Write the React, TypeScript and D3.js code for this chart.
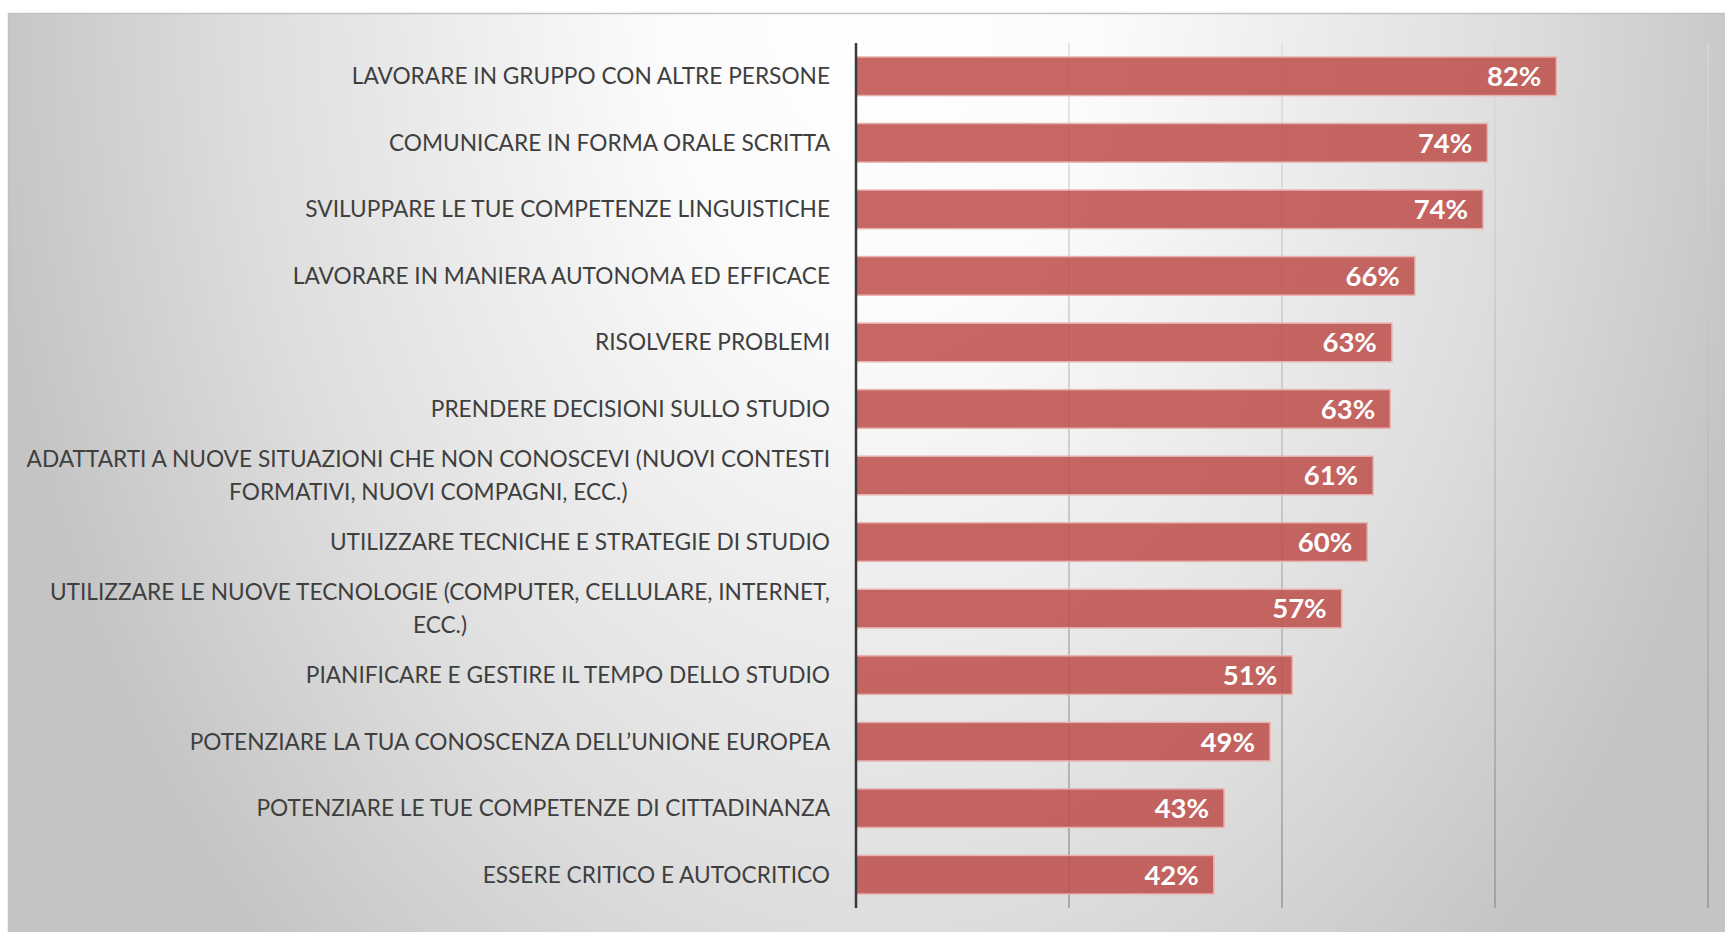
import React, { useEffect, useRef } from "react";
import * as d3 from "d3";

// categories (each entry = lines of the label as printed)
const categories: string[][] = [
  ["LAVORARE IN GRUPPO CON ALTRE PERSONE"],
  ["COMUNICARE IN FORMA ORALE SCRITTA"],
  ["SVILUPPARE LE TUE COMPETENZE LINGUISTICHE"],
  ["LAVORARE IN MANIERA AUTONOMA ED EFFICACE"],
  ["RISOLVERE PROBLEMI"],
  ["PRENDERE DECISIONI SULLO STUDIO"],
  ["ADATTARTI A NUOVE SITUAZIONI CHE NON CONOSCEVI (NUOVI CONTESTI", "FORMATIVI, NUOVI COMPAGNI, ECC.)"],
  ["UTILIZZARE TECNICHE E STRATEGIE DI STUDIO"],
  ["UTILIZZARE LE NUOVE TECNOLOGIE (COMPUTER, CELLULARE, INTERNET,", "ECC.)"],
  ["PIANIFICARE E GESTIRE IL TEMPO DELLO STUDIO"],
  ["POTENZIARE LA TUA CONOSCENZA DELL\u2019UNIONE EUROPEA"],
  ["POTENZIARE LE TUE COMPETENZE DI CITTADINANZA"],
  ["ESSERE CRITICO E AUTOCRITICO"],
];
const values = [0.822, 0.741, 0.736, 0.656, 0.629, 0.627, 0.607, 0.6, 0.57, 0.512, 0.486, 0.432, 0.42];
const valueLabels = ["82%", "74%", "74%", "66%", "63%", "63%", "61%", "60%", "57%", "51%", "49%", "43%", "42%"];
const gridTicks = [0, 0.25, 0.5, 0.75, 1];

const W = 1725;
const H = 932;
const FONT = "Lato, 'Open Sans', sans-serif";

function BarChart() {
  const ref = useRef<SVGSVGElement>(null);

  useEffect(() => {
    const svg = d3.select(ref.current);
    svg.selectAll("*").remove();

    const margin = { top: 43, right: 17, bottom: 24, left: 856 };

    const x = d3.scaleLinear()
      .domain([0, 1])
      .range([margin.left, W - margin.right]);

    const y = d3.scaleBand<number>()
      .domain(d3.range(categories.length))
      .range([margin.top, H - margin.bottom])
      .paddingInner(0.42)
      .paddingOuter(0.21);

    const defs = svg.append("defs");
    const bg = defs.append("radialGradient")
      .attr("id", "bg")
      .attr("gradientUnits", "userSpaceOnUse")
      .attr("cx", 880).attr("cy", 0)
      .attr("r", 900)
      .attr("gradientTransform", "translate(880,0) scale(1,1.45) translate(-880,0)");
    bg.append("stop").attr("offset", 0).attr("stop-color", "#ffffff");
    bg.append("stop").attr("offset", 0.25).attr("stop-color", "#fbfbfb");
    bg.append("stop").attr("offset", 0.7).attr("stop-color", "#dedede");
    bg.append("stop").attr("offset", 1).attr("stop-color", "#c4c4c4");

    const gl = defs.append("linearGradient")
      .attr("id", "grid")
      .attr("gradientUnits", "userSpaceOnUse")
      .attr("x1", 0).attr("y1", margin.top)
      .attr("x2", 0).attr("y2", H - margin.bottom);
    gl.append("stop").attr("offset", 0).attr("stop-color", "#dadada");
    gl.append("stop").attr("offset", 0.45).attr("stop-color", "#bdbdbd");
    gl.append("stop").attr("offset", 1).attr("stop-color", "#8e8e8e");

    // background panel
    svg.append("rect")
      .attr("x", 0).attr("y", 0).attr("width", W).attr("height", H)
      .attr("fill", "#ffffff");
    svg.append("rect")
      .attr("x", 8.5).attr("y", 13.5)
      .attr("width", W).attr("height", H)
      .attr("fill", "url(#bg)")
      .attr("stroke", "#c2c2c2")
      .attr("stroke-width", 1.5);

    // gridlines
    svg.append("g")
      .selectAll("line")
      .data(gridTicks.slice(1))
      .join("line")
      .attr("x1", d => x(d)).attr("x2", d => x(d))
      .attr("y1", margin.top).attr("y2", H - margin.bottom)
      .attr("stroke", "url(#grid)")
      .attr("stroke-width", 1.3);

    // bars
    svg.append("g")
      .selectAll("rect")
      .data(values)
      .join("rect")
      .attr("x", x(0))
      .attr("y", (_, i) => y(i)!)
      .attr("width", d => x(d) - x(0))
      .attr("height", y.bandwidth())
      .attr("fill", "rgba(190,80,77,0.87)")
      .attr("stroke", "#e8b2b0")
      .attr("stroke-width", 1.5);

    // value labels
    svg.append("g")
      .selectAll("text")
      .data(values)
      .join("text")
      .attr("x", d => x(d) - 15)
      .attr("y", (_, i) => y(i)! + y.bandwidth() / 2)
      .attr("dy", "0.36em")
      .attr("text-anchor", "end")
      .attr("fill", "#ffffff")
      .attr("font-family", FONT)
      .attr("font-weight", 700)
      .attr("font-size", 27.5)
      .text((_, i) => valueLabels[i]);

    // category labels
    const labelRight = x(0) - 26;
    const lineH = 33;
    const lab = svg.append("g")
      .attr("font-family", FONT)
      .attr("font-size", 22.7)
      .attr("fill", "#3f3f3f");
    categories.forEach((lines, i) => {
      const cy = y(i)! + y.bandwidth() / 2;
      const g = lab.append("g");
      const texts = lines.map((ln, j) =>
        g.append("text")
          .attr("y", cy + (j - (lines.length - 1) / 2) * lineH)
          .attr("dy", "0.35em")
          .attr("text-anchor", "middle")
          .text(ln)
      );
      const widths = texts.map(t => (t.node() as SVGTextElement).getComputedTextLength());
      const maxW = d3.max(widths) || 0;
      texts.forEach(t => t.attr("x", labelRight - maxW / 2));
    });

    // vertical axis line
    svg.append("line")
      .attr("x1", x(0)).attr("x2", x(0))
      .attr("y1", margin.top).attr("y2", H - margin.bottom)
      .attr("stroke", "#3a3a3a")
      .attr("stroke-width", 2.5);
  }, []);

  return <svg ref={ref} width={W} height={H} style={{ position: "absolute", left: 0, top: 0 }} />;
}

export default function App() {
  return <BarChart />;
}
